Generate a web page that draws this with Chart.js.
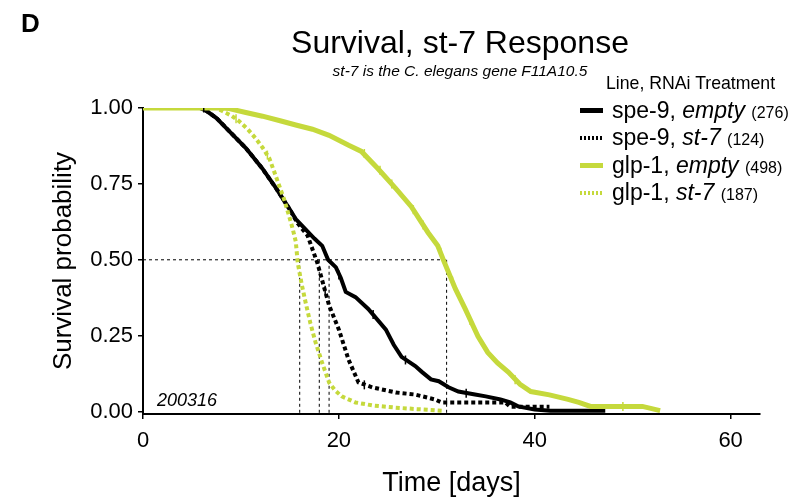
<!DOCTYPE html>
<html>
<head>
<meta charset="utf-8">
<script src="https://cdn.jsdelivr.net/npm/chart.js@4.4.1/dist/chart.umd.min.js"></script>
<style>
  body { margin: 0; background: #fff; font-family: "Liberation Sans", Arial, sans-serif; }
  #wrap { position: relative; width: 795px; height: 498px; }
  #wrap canvas { position: absolute; left: 0; top: 0; }
  .lbl { position: absolute; white-space: nowrap; color: #000; line-height: 1; }
  .row { position: absolute; left: 580px; white-space: nowrap; line-height: 1; font-size: 23px; }
  .row .sw { display: inline-block; width: 23px; height: 5px; vertical-align: middle; margin-right: 9px; position: relative; top: -1px; }
  .row small { font-size: 16px; }
</style>
</head>
<body>
<div id="wrap">
  <canvas id="myChart" width="795" height="498"></canvas>
  <div class="lbl" style="left:21px;top:10px;font-size:26px;font-weight:bold">D</div>
  <div class="lbl" style="left:160px;width:600px;top:26px;font-size:32px;text-align:center">Survival, st-7 Response</div>
  <div class="lbl" style="left:260px;width:400px;top:63px;font-size:15.5px;font-style:italic;text-align:center">st-7 is the C. elegans gene F11A10.5</div>
  <div class="lbl" style="left:606px;top:75px;font-size:17.7px">Line, RNAi Treatment</div>
  <div id="legend"></div>
  <div class="lbl" style="left:157px;top:391px;font-size:18px;font-style:italic">200316</div>
</div>
<script>
const green = '#c5d93c';

// legend entries
const lineNames = ['spe-9', 'spe-9', 'glp-1', 'glp-1'];
const treatments = ['empty', 'st-7', 'empty', 'st-7'];
const counts = [276, 124, 498, 187];

// Kaplan-Meier curves: [day, survival]
const spe9Empty = [
  [0, 1], [5.8, 1], [6.5, 0.99], [7.5, 0.967], [8.8, 0.924], [10.5, 0.868], [12.2, 0.80],
  [13.6, 0.735], [14.9, 0.67], [15.6, 0.634], [16.6, 0.60], [17.5, 0.57], [18.3, 0.546],
  [18.9, 0.50], [19.7, 0.475], [20.2, 0.44], [20.7, 0.394], [21.7, 0.377], [23, 0.338],
  [24.8, 0.27], [25.6, 0.22], [26.4, 0.18], [27.8, 0.15], [28.5, 0.13], [29.4, 0.106],
  [30.2, 0.10], [31.2, 0.08], [32.2, 0.066], [33.9, 0.056], [35, 0.05], [36.5, 0.04],
  [37.5, 0.03], [38.3, 0.017], [40, 0.007], [41.6, 0.003], [47.2, 0.003]
];
const spe9St7 = [
  [0, 1], [6, 1], [6.5, 0.99], [7.5, 0.967], [8.8, 0.924], [10.5, 0.868], [12.2, 0.80],
  [13.6, 0.735], [14.9, 0.67], [15.8, 0.62], [16.8, 0.58], [17.8, 0.49], [18.4, 0.42],
  [19, 0.35], [20, 0.27], [21, 0.17], [22, 0.096], [23.4, 0.08], [25.8, 0.063],
  [27.8, 0.056], [29.8, 0.04], [30.5, 0.03], [37, 0.03], [37.5, 0.016], [41.5, 0.016]
];
const glp1Empty = [
  [0, 1], [8, 1], [8.8, 0.998], [10.5, 0.985], [12.2, 0.973], [14, 0.958], [15.6, 0.944],
  [17.3, 0.93], [19, 0.91], [21, 0.877], [22.3, 0.857], [24, 0.80], [25.8, 0.735],
  [27.4, 0.675], [29.1, 0.59], [30.1, 0.546], [30.7, 0.497], [31.9, 0.404], [32.9, 0.338],
  [34.2, 0.248], [35.2, 0.195], [36.2, 0.16], [37.3, 0.13], [38.5, 0.09], [39.6, 0.066],
  [41.5, 0.055], [43.4, 0.04], [44.5, 0.03], [45.7, 0.017], [51, 0.017], [52.8, 0.003]
];
const glp1St7 = [
  [0, 1], [7.5, 1], [8.1, 0.99], [9, 0.975], [9.8, 0.957], [10.7, 0.93], [11.5, 0.90],
  [12.2, 0.87], [12.9, 0.834], [13.4, 0.79], [13.9, 0.745], [14.4, 0.70], [14.9, 0.646],
  [15.3, 0.60], [15.6, 0.56], [15.8, 0.49], [16.2, 0.42], [16.6, 0.36], [17.1, 0.29],
  [17.6, 0.23], [18.3, 0.16], [19, 0.096], [19.6, 0.07], [20.3, 0.05], [21.7, 0.03],
  [23.5, 0.02], [25.8, 0.013], [28, 0.008], [30.5, 0.003]
];

// censored animals (the small + ticks), [day, survival]
const spe9EmptyCens = [[6.2, 1], [20, 0.45], [23.5, 0.32], [26.8, 0.17], [33, 0.06]];
const spe9St7Cens = [[18.6, 0.40], [22.6, 0.088]];
const glp1EmptyCens = [[22.6, 0.85], [24.2, 0.795], [25.4, 0.75], [27.6, 0.665], [28.6, 0.615],
  [30.4, 0.525], [31.6, 0.43], [33.4, 0.30], [38, 0.105], [49, 0.017]];
const glp1St7Cens = [[9.5, 0.965], [12.7, 0.845]];

// median survival (days) for each curve, in legend order
const medians = [19, 18, 31, 16];

const xTicks = [0, 20, 40, 60];
const yTicks = [0, 0.25, 0.5, 0.75, 1];
const yMin = -0.008;

const toXY = arr => arr.map(p => ({ x: p[0], y: p[1] }));

// build the html legend
const legendColors = ['#000', '#000', green, green];
const legendDashed = [false, true, false, true];
const legendTops = [99, 126, 154, 181];
const legend = document.getElementById('legend');
for (let i = 0; i < lineNames.length; i++) {
  const row = document.createElement('div');
  row.className = 'row';
  row.style.top = legendTops[i] + 'px';
  const c = legendColors[i];
  const bg = legendDashed[i]
    ? `background: repeating-linear-gradient(90deg, ${c} 0 2px, transparent 2px 4px); height: 4px`
    : `background: ${c}`;
  row.innerHTML = `<span class="sw" style="${bg}"></span>${lineNames[i]}, <i>${treatments[i]}</i> <small>(${counts[i]})</small>`;
  legend.appendChild(row);
}

// dashed median guide lines
const guideSets = [{
  data: [{ x: 0, y: 0.5 }, { x: Math.max(...medians), y: 0.5 }],
  borderColor: '#000', borderWidth: 1, borderDash: [3, 3], pointRadius: 0, order: 10
}];
medians.forEach(m => {
  guideSets.push({
    data: [{ x: m, y: 0.5 }, { x: m, y: yMin }],
    borderColor: '#000', borderWidth: 1, borderDash: [3, 3], pointRadius: 0, order: 10
  });
});

// censor tick marks
function censorSet(arr, color) {
  return {
    type: 'scatter', data: toXY(arr), showLine: false,
    pointStyle: 'line', rotation: 90, pointRadius: 4.5,
    pointBorderColor: color, pointBorderWidth: 1.5, order: 0
  };
}

const tickFont = { size: 22, family: '"Liberation Sans", Arial' };

const ctx = document.getElementById('myChart').getContext('2d');
new Chart(ctx, {
  type: 'line',
  data: {
    datasets: [
      { label: 'spe-9, empty', data: toXY(spe9Empty), borderColor: '#000', borderWidth: 4, order: 4 },
      { label: 'spe-9, st-7', data: toXY(spe9St7), borderColor: '#000', borderWidth: 4, borderDash: [4, 3], order: 3 },
      { label: 'glp-1, empty', data: toXY(glp1Empty), borderColor: green, borderWidth: 5, order: 1 },
      { label: 'glp-1, st-7', data: toXY(glp1St7), borderColor: green, borderWidth: 4, borderDash: [4, 3], order: 2 },
      censorSet(spe9EmptyCens, '#000'),
      censorSet(spe9St7Cens, '#000'),
      censorSet(glp1EmptyCens, green),
      censorSet(glp1St7Cens, green),
      ...guideSets
    ]
  },
  options: {
    responsive: false,
    animation: false,
    layout: { padding: { left: 0, right: 35, top: 108, bottom: 0 } },
    elements: { point: { radius: 0 }, line: { tension: 0, fill: false } },
    plugins: { legend: { display: false }, tooltip: { enabled: false } },
    scales: {
      x: {
        type: 'linear', min: 0, max: 63,
        afterBuildTicks: s => { s.ticks = xTicks.map(v => ({ value: v })); },
        afterFit: s => { s.height = 84; },
        grid: { display: true, drawOnChartArea: false, drawTicks: true, tickLength: 5, color: '#000', lineWidth: 1.5 },
        border: { display: true, color: '#000', width: 2 },
        ticks: { color: '#000', font: tickFont, padding: 9, maxRotation: 0 },
        title: { display: true, text: 'Time [days]', color: '#000', font: { size: 27, family: '"Liberation Sans", Arial', lineHeight: 1.1 }, padding: { top: 0, bottom: 0 } }
      },
      y: {
        type: 'linear', min: yMin, max: 1,
        afterBuildTicks: s => { s.ticks = yTicks.map(v => ({ value: v })); },
        afterFit: s => { s.width = 143; },
        grid: { display: true, drawOnChartArea: false, drawTicks: true, tickLength: 5, color: '#000', lineWidth: 1.5 },
        border: { display: true, color: '#000', width: 2 },
        ticks: { color: '#000', font: tickFont, padding: 5, callback: v => v.toFixed(2) },
        title: { display: true, text: 'Survival probability', color: '#000', font: { size: 26, family: '"Liberation Sans", Arial' }, padding: { top: 48, bottom: 0 } }
      }
    }
  }
});
</script>
</body>
</html>
